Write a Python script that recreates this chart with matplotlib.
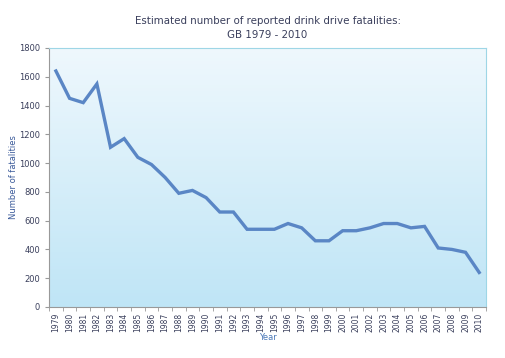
import matplotlib
matplotlib.use("Agg")
import matplotlib.pyplot as plt
import numpy as np
from matplotlib.colors import LinearSegmentedColormap

years = [str(y) for y in range(1979, 2011)]
fatalities = [1640, 1450, 1420, 1550, 1110, 1170, 1040, 990, 900, 790,
              810, 760, 660, 660, 540, 540, 540, 580, 550, 460,
              460, 530, 530, 550, 580, 580, 550, 560, 410, 400,
              380, 240]

txt = '#3a3f5c'
fig = plt.figure(figsize=(5.06, 3.58), dpi=100)
ax = fig.add_axes([0.097, 0.1425, 0.8635, 0.7235])

x = np.arange(len(years))
ax.set_xlim(-0.5, len(years) - 0.5)
ax.set_ylim(0, 1800)

# background gradient
cmap = LinearSegmentedColormap.from_list('bg', ['#bfe5f6', '#eff8fd'])
grad = np.linspace(0, 1, 256).reshape(-1, 1)
ax.imshow(grad, cmap=cmap, aspect='auto', origin='lower',
          extent=[-0.5, len(years) - 0.5, 0, 1800], zorder=0)

ax.plot(x, fatalities, color='#5a86c5', lw=2.4, solid_joinstyle='miter', zorder=3)

ax.set_xticks(x)
ax.set_xticklabels(years, rotation=90, fontsize=5.5, color=txt)
ax.set_xticks(np.arange(-0.5, len(years), 1), minor=True)
ax.tick_params(axis='x', which='major', length=0, pad=4)
ax.tick_params(axis='x', which='minor', length=3, color='#999999')
ax.set_yticks(range(0, 1801, 200))
ax.tick_params(axis='y', labelsize=6, colors=txt, length=3)
ax.tick_params(axis='y', color='#999999')

for s in ['top', 'right']:
    ax.spines[s].set_color('#9ed6e6')
ax.spines['left'].set_color('#999999')
ax.spines['bottom'].set_color('#999999')

ax.set_xlabel('Year', fontsize=6, color='#4a78b8', labelpad=1)
ax.set_ylabel('Number of fatalities', fontsize=6, color='#3a5a9a', labelpad=1)
ax.set_title('Estimated number of reported drink drive fatalities:\nGB 1979 - 2010',
             fontsize=7.4, color=txt, pad=7, linespacing=1.5)

plt.savefig('out.png', dpi=100)
